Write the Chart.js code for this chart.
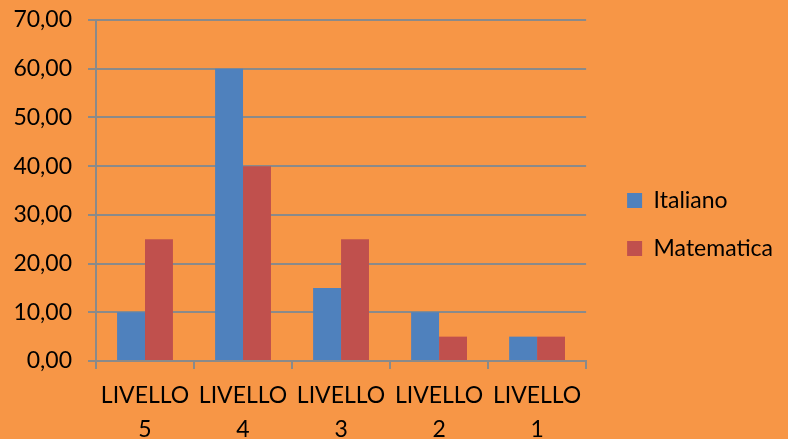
<!DOCTYPE html>
<html>
<head>
<meta charset="utf-8">
<script src="https://cdn.jsdelivr.net/npm/chart.js@4/dist/chart.umd.min.js"></script>
<style>
html,body{margin:0;padding:0;background:#F79646;}
#wrap{width:788px;height:439px;position:relative;}
</style>
</head>
<body>
<div id="wrap"><canvas id="c" width="788" height="439"></canvas></div>
<script>
const categories = [["LIVELLO","5"],["LIVELLO","4"],["LIVELLO","3"],["LIVELLO","2"],["LIVELLO","1"]];
const italiano = [10, 60, 15, 10, 5];
const matematica = [25, 40, 25, 5, 5];
const seriesNames = ["Italiano", "Matematica"];

const FONT = "Lato, 'Open Sans', sans-serif";
const FS = 23;
const GRID = "#8A8A8A";

const shiftLegend = {
  id: 'shiftLegend',
  afterLayout(chart) {
    const lg = chart.legend;
    if (lg) { lg.left += 16; lg.right += 16; }
  }
};

new Chart(document.getElementById('c'), {
  type: 'bar',
  data: {
    labels: categories,
    datasets: [
      {label: seriesNames[0], data: italiano, backgroundColor: '#4F81BD', categoryPercentage: 0.57, barPercentage: 1},
      {label: seriesNames[1], data: matematica, backgroundColor: '#C0504D', categoryPercentage: 0.57, barPercentage: 1}
    ]
  },
  plugins: [shiftLegend],
  options: {
    responsive: false,
    animation: false,
    devicePixelRatio: 1,
    layout: {autoPadding: false, padding: {left: 0, top: 10, right: 21, bottom: 0}},
    plugins: {
      legend: {
        position: 'right',
        labels: {
          boxWidth: 15, boxHeight: 15, padding: 25,
          color: '#000',
          font: {family: FONT, size: FS}
        }
      },
      tooltip: {enabled: false}
    },
    scales: {
      x: {
        grid: {drawOnChartArea: false, color: GRID, tickLength: 8, lineWidth: 2, offset: true},
        border: {color: GRID, width: 2},
        ticks: {color: '#000', font: {family: FONT, size: FS, lineHeight: 1.48}, padding: 10, maxRotation: 0},
        afterFit: s => { s.height = 78; }
      },
      y: {
        min: 0, max: 70,
        grid: {color: GRID, lineWidth: 2, tickLength: 8},
        border: {color: GRID, width: 2},
        ticks: {
          stepSize: 10, color: '#000', padding: 16,
          font: {family: FONT, size: FS},
          callback: v => v.toFixed(2).replace('.', ',')
        },
        afterFit: s => { s.width = 96; s.paddingTop = 20; s.paddingBottom = 0; }
      }
    }
  }
});
</script>
</body>
</html>
